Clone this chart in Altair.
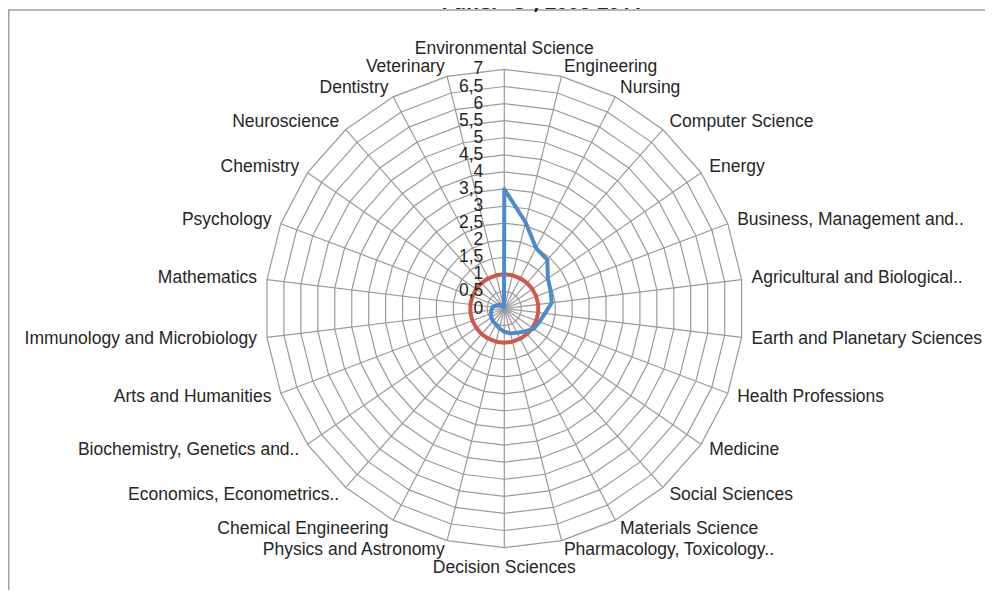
import altair as alt
import pandas as pd

categories = [
    "Environmental Science", "Engineering", "Nursing", "Computer Science", "Energy",
    "Business, Management and..", "Agricultural and Biological..", "Earth and Planetary Sciences",
    "Health Professions", "Medicine", "Social Sciences", "Materials Science",
    "Pharmacology, Toxicology..", "Decision Sciences", "Physics and Astronomy",
    "Chemical Engineering", "Economics, Econometrics..", "Biochemistry, Genetics and..",
    "Arts and Humanities", "Immunology and Microbiology", "Mathematics", "Psychology",
    "Chemistry", "Neuroscience", "Dentistry", "Veterinary",
]
series_blue = [3.5, 2.6, 2.0, 1.9, 1.55, 1.45, 1.4, 1.2, 1.1, 1.05, 0.9, 0.8, 0.75,
               0.68, 0.6, 0.53, 0.5, 0.46, 0.42, 0.38, 0.35, 0.25, 0.18, 0.12, 0.08, 0.04]
series_red = [1, 1, 1, 1, 1, 1, 1, 1, 1, 1, 1, 1, 1, 1, 1, 1, 1, 1, 1, 1, 1, 1, 1, 1, 1, 1]
ring_values = [0.5, 1, 1.5, 2, 2.5, 3, 3.5, 4, 4.5, 5, 5.5, 6, 6.5, 7]
tick_values = [0, 0.5, 1, 1.5, 2, 2.5, 3, 3.5, 4, 4.5, 5, 5.5, 6, 6.5, 7]
title_text = 'Panel "C", 2006-2011'

N = len(categories)
RMAX = 7
S = 34.15           # pixels per unit
W, H = 977, 582
CX, CY = 496.3, 300.5

xs = alt.Scale(domain=[-CX / S, (W - CX) / S], nice=False, zero=False)
ys = alt.Scale(domain=[-(H - CY) / S, CY / S], nice=False, zero=False)

FONT = "Liberation Sans"
FS = 17.5
TXT = "#262626"
GRID = "#9a9a9a"
BLUE = "#4a8ccb"
RED = "#d0584a"

cat_df = pd.DataFrame({"cat": categories, "k": list(range(N))})
blue_df = pd.DataFrame({"cat": categories, "k": list(range(N)), "v": series_blue})
red_df = pd.DataFrame({"cat": categories, "k": list(range(N)), "v": series_red})
ring_df = pd.DataFrame([(r, k) for r in ring_values for k in range(N)], columns=["r", "k"])
tick_df = pd.DataFrame({"v": tick_values})
one_df = pd.DataFrame({"a": [0]})

TH = f"datum.k*2*PI/{N}"


def X(f):
    return alt.X(f, type="quantitative", scale=xs, axis=None)


def Y(f):
    return alt.Y(f, type="quantitative", scale=ys, axis=None)


rings = (
    alt.Chart(ring_df)
    .transform_calculate(th=TH)
    .transform_calculate(px="datum.r*sin(datum.th)", py="datum.r*cos(datum.th)")
    .mark_line(interpolate="linear-closed", color=GRID, strokeWidth=1.2)
    .encode(x=X("px"), y=Y("py"), detail="r:N", order="k:Q")
)

spokes = (
    alt.Chart(cat_df)
    .transform_calculate(th=TH)
    .transform_calculate(
        x0="0", y0="0",
        x1=f"{RMAX}*sin(datum.th)", y1=f"{RMAX}*cos(datum.th)",
    )
    .mark_rule(color=GRID, strokeWidth=1.2)
    .encode(x=X("x0"), y=Y("y0"), x2="x1:Q", y2="y1:Q")
)


def series(df, color):
    return (
        alt.Chart(df)
        .transform_calculate(th=TH)
        .transform_calculate(px="datum.v*sin(datum.th)", py="datum.v*cos(datum.th)")
        .mark_line(interpolate="linear-closed", color=color, strokeWidth=4, strokeJoin="round")
        .encode(x=X("px"), y=Y("py"), order="k:Q")
    )


red_line = series(red_df, RED)
blue_line = series(blue_df, BLUE)

lab_base = (
    alt.Chart(cat_df)
    .transform_calculate(th=TH)
    .transform_calculate(sn="sin(datum.th)", cs="cos(datum.th)")
    .transform_calculate(
        rr=f"abs(datum.sn) < 0.01 ? {RMAX + 0.6} : {RMAX + 10 / S}",
    )
    .transform_calculate(lx="datum.rr*datum.sn", ly="datum.rr*datum.cs")
)

lab_right = lab_base.transform_filter("datum.sn > 0.01").mark_text(
    align="left", baseline="middle", font=FONT, fontSize=FS, color=TXT
).encode(x=X("lx"), y=Y("ly"), text="cat:N")

lab_left = lab_base.transform_filter("datum.sn < -0.01").mark_text(
    align="right", baseline="middle", font=FONT, fontSize=FS, color=TXT
).encode(x=X("lx"), y=Y("ly"), text="cat:N")

lab_mid = lab_base.transform_filter("abs(datum.sn) <= 0.01").mark_text(
    align="center", baseline="middle", font=FONT, fontSize=FS, color=TXT
).encode(x=X("lx"), y=Y("ly"), text="cat:N")

ticks = (
    alt.Chart(tick_df)
    .transform_calculate(lbl="replace(format(datum.v, '~g'), '.', ',')", x0="0")
    .mark_text(align="right", baseline="middle", dx=-21, font=FONT, fontSize=FS, color=TXT)
    .encode(x=X("x0"), y=Y("v"), text="lbl:N")
)

frame_top = alt.Chart(one_df).mark_rule(color="#a0a0a0", strokeWidth=1.5).encode(
    x=alt.value(0), x2=alt.value(W), y=alt.value(2)
)
frame_left = alt.Chart(one_df).mark_rule(color="#a0a0a0", strokeWidth=1.5).encode(
    x=alt.value(0.75), y=alt.value(2), y2=alt.value(H)
)

title = alt.Chart(one_df).mark_text(
    align="center", baseline="alphabetic", font="Open Sans", fontWeight="bold",
    fontSize=20, color=TXT
).encode(x=alt.value(534), y=alt.value(1), text=alt.value(title_text))

chart = (
    alt.layer(rings, spokes, red_line, blue_line, ticks, lab_right, lab_left, lab_mid,
              frame_top, frame_left, title)
    .properties(width=W, height=H, padding=0, autosize=alt.AutoSizeParams(type="none"),
                background="white")
    .configure_view(stroke=None)
)

chart.save("out.html", embed_options={"renderer": "svg", "actions": False})
